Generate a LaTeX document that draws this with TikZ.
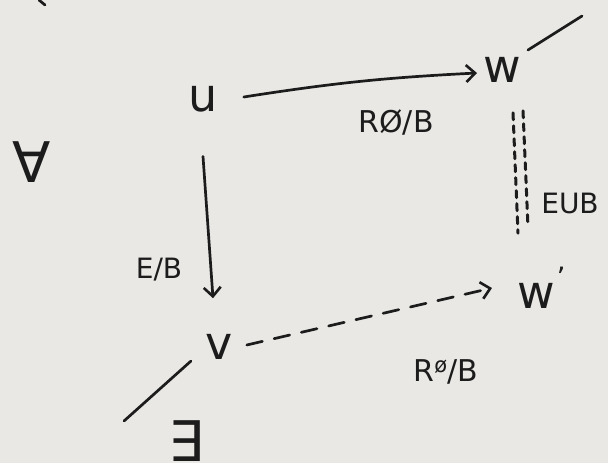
\documentclass[tikz,border=0pt]{standalone}
\usepackage{fontspec}
\setmainfont{DejaVu Sans}
\usetikzlibrary{arrows.meta}
\definecolor{paper}{RGB}{234,232,229}
\definecolor{inkc}{RGB}{28,28,28}
\begin{document}
\begin{tikzpicture}[x=1pt,y=-1pt,
  ink/.style={draw=inkc, line width=2.7pt, line cap=round},
  tip/.style={-{Straight Barb[length=9pt,width=17pt,line width=2.6pt]}},
  var/.style={text=inkc, font=\fontsize{46}{46}\selectfont, inner sep=0pt},
  lab/.style={text=inkc, font=\fontsize{28}{28}\selectfont, inner sep=0pt},
  quant/.style={text=inkc, font=\fontsize{56}{56}\selectfont, inner sep=0pt},
  dbl/.style={draw=inkc, line width=3pt, line cap=round, dash pattern=on 7pt off 6pt},
]
\fill[paper] (0,0) rectangle (608,463);
\useasboundingbox (0,0) rectangle (608,463);

% objects
\node[var] (u) at (203,99) {u};
\node[var] (w) at (502,70) {w};
\node[var] (w2) at (536,296) {w};
\node[lab] (w2p) at (561,277) {'};
\node[var] (v) at (219,347) {v};
\node[quant] (A) at (32,162) {∀};
\node[quant] (E) at (186,441) {∃};

% labels
\node[lab, font=\fontsize{30}{30}\selectfont] (l1) at (396,122) {RØ/B};
\node[lab] (l2) at (570,203) {EUB};
\node[lab] (l3) at (159,270) {E/B};
\node[lab, font=\fontsize{30}{30}\selectfont] (l4) at (446,372) {R\textsuperscript{ø}/B};

% arrows
\draw[ink,tip] ([xshift=26pt,yshift=2pt]u.east) to[bend left=3] ([xshift=-6pt,yshift=-3pt]w.west);
\draw[ink,tip] ([yshift=-44pt]u.south) -- ([xshift=-6pt,yshift=36pt]v.north);
\draw[ink,tip,dash pattern=on 16pt off 12pt] ([xshift=14pt,yshift=2pt]v.east) -- ([xshift=-25pt,yshift=8pt]w2.west);

% double dashed connection w -- w'
\draw[dbl] ([xshift=11pt,yshift=-30pt]w.south) -- ([xshift=-18pt,yshift=50pt]w2.north);
\draw[dbl] ([xshift=21pt,yshift=-28pt]w.south) -- ([xshift=-8pt,yshift=56pt]w2.north);

% slash strokes
\draw[ink] (528,50) -- (582,16);
\draw[ink] (191,361) -- (124,421);
\draw[ink] (39,0) -- (45,5);
\end{tikzpicture}
\end{document}
